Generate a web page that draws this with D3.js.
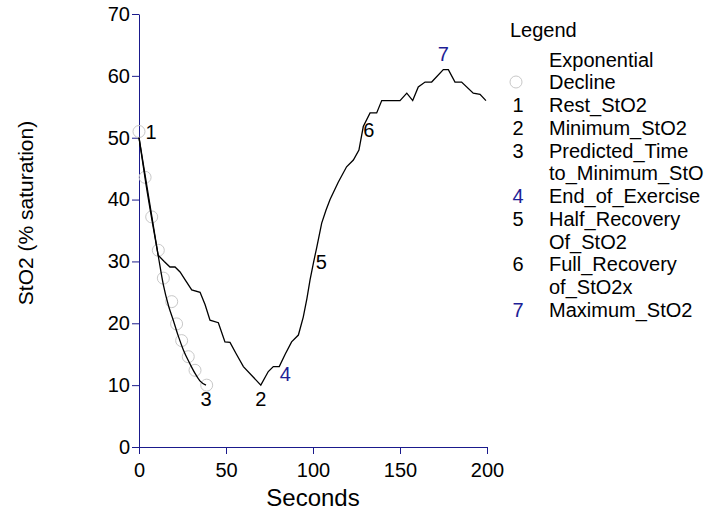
<!DOCTYPE html>
<html>
<meta charset="utf-8">
<style>
  body { margin: 0; background: #fff; }
  text { font-family: "Liberation Sans", Arial, sans-serif; fill: #000; }
  .axis path, .axis line { stroke: #1a1a8c; }
  .axis text { font-size: 20px; fill: #000; }
</style>
<body>
<script src="https://d3js.org/d3.v7.min.js"></script>
<script>
// measured StO2 trace
let seconds = [0, 11, 14.5, 17.8, 20.7, 23.6, 27, 30.3, 35.1, 38, 40.8, 45.6, 49.4, 52.3, 56, 60, 70, 74.3, 77.2, 80.6, 84, 87.7, 91.6, 94.4, 96.5, 98.3, 100.2, 102.1, 105, 107.5, 109.8, 114.5, 119.3, 123.2, 126.4, 128.9, 132.8, 136.6, 139.5, 145, 150, 153.9, 157.3, 160.5, 164.4, 168.2, 174.9, 177.8, 181.6, 185.4, 192.1, 196, 199.4];
let sto2 = [50, 31, 30, 29.1, 29.1, 28.3, 26.8, 25.4, 25, 23, 20.5, 20.1, 17, 16.9, 15, 13, 10, 12.2, 13, 13, 15, 17, 18.1, 21, 24, 27, 29.7, 32.2, 36.2, 38.3, 40, 42.8, 45.3, 46.4, 48, 51.8, 54, 54, 56, 56, 56, 57.2, 56, 58.2, 59, 59, 61, 61, 59, 59, 57.2, 57, 56];

// exponential decline fit line
let fitSeconds = [0, 4, 8, 11, 14, 17, 19.7, 22.5, 25.5, 29, 32.2, 35, 38.5];
let fitSto2 = [50, 42.5, 35.8, 31, 26.2, 22.8, 20.5, 18, 15.7, 13.6, 11.9, 10.7, 10];

// exponential decline circles
let expSeconds = [0, 3.5, 7.3, 11.1, 14, 18.8, 21.6, 24.5, 28.3, 32.2, 38.9];
let expSto2 = [51, 43.6, 37.2, 31.8, 27.3, 23.5, 19.9, 17.2, 14.6, 12.4, 10];

// numbered event markers
let markerIds = ["1", "2", "3", "4", "5", "6", "7"];
let markerSeconds = [0, 70, 38.5, 80, 100.4, 127.5, 176];
let markerSto2 = [51, 10, 10, 13, 30, 51, 61];
let markerNames = ["Rest_StO2", "Minimum_StO2", "Predicted_Time\nto_Minimum_StO", "End_of_Exercise", "Half_Recovery\nOf_StO2", "Full_Recovery\nof_StO2x", "Maximum_StO2"];

let xTicks = [0, 50, 100, 150, 200];
let yTicks = [0, 10, 20, 30, 40, 50, 60, 70];

// label placement / colour (style, not data)
let markerColors = ["#000", "#000", "#000", "#1e1e96", "#000", "#000", "#1e1e96"];
let markerOffsets = [[12, 0], [0, 14], [0, 14], [7, 7.5], [7.5, 0.5], [8, -1.5], [-2, -15.5]];

const svg = d3.select("body").append("svg")
    .attr("width", 718).attr("height", 517);

const x = d3.scaleLinear().domain([0, 200]).range([139, 487]);
const y = d3.scaleLinear().domain([0, 70]).range([447, 14]);

// axes
svg.append("g")
    .attr("class", "axis")
    .attr("transform", "translate(0,447)")
    .call(d3.axisBottom(x).tickValues(xTicks).tickSize(7).tickSizeOuter(0).tickPadding(4))
    .call(g => g.selectAll("text").attr("dy", "0.95em"));

svg.append("g")
    .attr("class", "axis")
    .attr("transform", "translate(139,0)")
    .call(d3.axisLeft(y).tickValues(yTicks).tickSize(7).tickSizeOuter(0).tickPadding(2));

// axis titles
svg.append("text")
    .attr("x", 313).attr("y", 506)
    .attr("text-anchor", "middle")
    .style("font-size", "24px")
    .text("Seconds");

svg.append("text")
    .attr("transform", "translate(33,213) rotate(-90)")
    .attr("text-anchor", "middle")
    .style("font-size", "21px")
    .text("StO2 (% saturation)");

// circles
svg.append("g").selectAll("circle")
    .data(d3.range(expSeconds.length))
    .join("circle")
    .attr("cx", i => x(expSeconds[i]))
    .attr("cy", i => y(expSto2[i]))
    .attr("r", 6)
    .attr("fill", "none")
    .attr("stroke", "#c8c8c8")
    .attr("stroke-width", 1);

// fit line
let fitLine = d3.line()
    .x(i => x(fitSeconds[i]))
    .y(i => y(fitSto2[i]))
    .curve(d3.curveMonotoneX);

svg.append("path")
    .attr("d", fitLine(d3.range(fitSeconds.length)))
    .attr("fill", "none")
    .attr("stroke", "#000")
    .attr("stroke-width", 1.3);

// data line
let dataLine = d3.line()
    .x(i => x(seconds[i]))
    .y(i => y(sto2[i]));

svg.append("path")
    .attr("d", dataLine(d3.range(seconds.length)))
    .attr("fill", "none")
    .attr("stroke", "#000")
    .attr("stroke-width", 1.3);

// marker labels
svg.append("g").selectAll("text")
    .data(d3.range(markerIds.length))
    .join("text")
    .attr("x", i => x(markerSeconds[i]) + markerOffsets[i][0])
    .attr("y", i => y(markerSto2[i]) + markerOffsets[i][1])
    .attr("dy", "0.35em")
    .attr("text-anchor", "middle")
    .style("font-size", "20px")
    .style("fill", i => markerColors[i])
    .text(i => markerIds[i]);

// legend
const legend = svg.append("g").style("font-size", "20px");
legend.append("text")
    .attr("x", 510).attr("y", 37)
    .text("Legend");

let row = 0;
const rowY = r => 66.5 + r * 22.75;

legend.append("text")
    .attr("x", 549).attr("y", rowY(row))
    .text("Exponential");
legend.append("text")
    .attr("x", 549).attr("y", rowY(row + 1))
    .text("Decline");
legend.append("circle")
    .attr("cx", 516).attr("cy", 82)
    .attr("r", 6)
    .attr("fill", "none")
    .attr("stroke", "#c8c8c8");
row += 2;

markerIds.forEach((id, i) => {
    legend.append("text")
        .attr("x", 518).attr("y", rowY(row))
        .attr("text-anchor", "middle")
        .style("fill", markerColors[i])
        .text(id);
    markerNames[i].split("\n").forEach(line => {
        legend.append("text")
            .attr("x", 549).attr("y", rowY(row))
            .text(line);
        row += 1;
    });
});
</script>
</body>
</html>
